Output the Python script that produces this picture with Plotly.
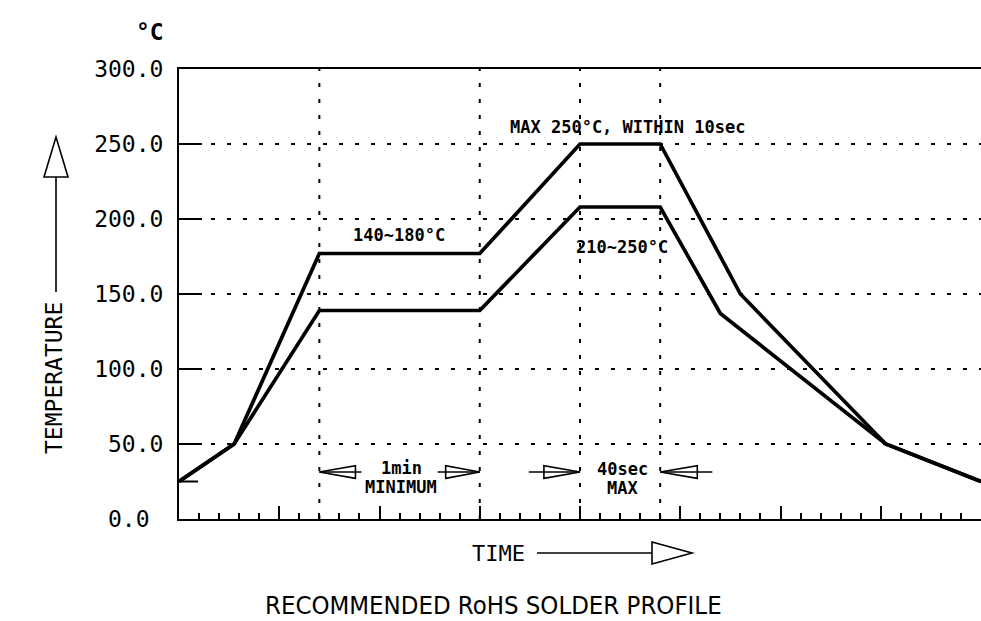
import plotly.graph_objects as go

# ---- data ----
upper_x = [0, 0.55, 1.4, 3.0, 4.0, 4.8, 5.6, 7.05, 8.0]
upper_y = [25, 50, 177, 177, 250, 250, 150, 50, 25]
lower_x = [0, 0.55, 1.4, 3.0, 4.0, 4.8, 5.4, 7.05, 8.0]
lower_y = [25, 50, 139, 139, 208, 208, 137, 50, 25]
marker_x = [1.4, 3.0, 4.0, 4.8]
y_ticks = [0, 50, 100, 150, 200, 250, 300]
y_ticktext = ["0.0\u00a0", "50.0", "100.0", "150.0", "200.0", "250.0", "300.0"]

# ---- geometry helpers (pixel -> paper) ----
L, R, T, B = 179, 981, 69, 519
def px(x):
    return (x - L) / (R - L)
def py(y):
    return (B - y) / (B - T)

MONO = "DejaVu Sans Mono"
fig = go.Figure()

line_style = dict(color="black", width=3.7)
fig.add_trace(go.Scatter(x=upper_x, y=upper_y, mode="lines", line=line_style,
                         hoverinfo="skip", showlegend=False))
fig.add_trace(go.Scatter(x=lower_x, y=lower_y, mode="lines", line=line_style,
                         hoverinfo="skip", showlegend=False))

shapes = []
dot = "4px,12px"
for xv in marker_x:
    shapes.append(dict(type="line", xref="x", yref="y", x0=xv, x1=xv, y0=0, y1=300,
                       line=dict(color="black", width=2, dash=dot), layer="below"))
# start stub at 25
shapes.append(dict(type="line", xref="x", yref="y", x0=0, x1=0.19, y0=25, y1=25,
                   line=dict(color="black", width=2)))

# span arrows (data coords)
ay = 31.3
hh = 4.2
def arrow(tip, base, tail):
    s = []
    s.append(dict(type="path", xref="x", yref="y",
                  path=f"M {base},{ay-hh} L {tip},{ay} L {base},{ay+hh} Z",
                  line=dict(color="black", width=1.6)))
    s.append(dict(type="line", xref="x", yref="y", x0=tip, x1=tail, y0=ay, y1=ay,
                  line=dict(color="black", width=1.6)))
    return s
shapes += arrow(marker_x[0], marker_x[0] + 0.36, marker_x[0] + 0.42)
shapes += arrow(marker_x[1], marker_x[1] - 0.34, marker_x[1] - 0.42)
shapes += arrow(marker_x[2], marker_x[2] - 0.36, marker_x[2] - 0.51)
shapes += arrow(marker_x[3], marker_x[3] + 0.37, marker_x[3] + 0.52)

# temperature arrow (paper coords)
shapes.append(dict(type="line", xref="paper", yref="paper", x0=px(56), x1=px(56),
                   y0=py(292), y1=py(177), line=dict(color="black", width=1.6)))
shapes.append(dict(type="path", xref="paper", yref="paper",
                   path=f"M {px(44)},{py(177)} L {px(56)},{py(137)} L {px(68)},{py(177)} Z",
                   line=dict(color="black", width=1.6)))
# time arrow
shapes.append(dict(type="line", xref="paper", yref="paper", x0=px(537), x1=px(652),
                   y0=py(553), y1=py(553), line=dict(color="black", width=1.6)))
shapes.append(dict(type="path", xref="paper", yref="paper",
                   path=f"M {px(652)},{py(542)} L {px(692)},{py(553)} L {px(652)},{py(564)} Z",
                   line=dict(color="black", width=1.6)))

ann = []
def label(text, x, y, size=17, bold=True, **kw):
    t = f"<b>{text}</b>" if bold else text
    d = dict(text=t, x=x, y=y, xref="x", yref="y", showarrow=False,
             xanchor="center", yanchor="middle",
             font=dict(family=MONO, size=size, color="black"))
    d.update(kw)
    ann.append(d)

label("MAX 250°C, WITHIN 10sec", 4.47, 261.3)
label("140~180°C", 2.19, 189.3)
label("210~250°C", 4.42, 181.3)
label("1min", 2.22, 34)
label("MINIMUM", 2.21, 21.3)
label("40sec", 4.42, 33.3)
label("MAX", 4.42, 20.7)

def plabel(text, x, y, size, family=MONO, **kw):
    d = dict(text=text, xref="paper", yref="paper", x=px(x), y=py(y),
             xanchor="center", yanchor="middle", showarrow=False,
             font=dict(family=family, size=size, color="black"))
    d.update(kw)
    ann.append(d)

plabel("<b>°C</b>", 150, 32, 23)
plabel("TEMPERATURE", 54, 378, 23, textangle=-90)
plabel("TIME", 498, 553, 22)
plabel("RECOMMENDED RoHS SOLDER PROFILE", 493, 605, 25.5, family="DejaVu Sans Condensed")

fig.update_layout(
    width=981, height=621, autosize=False,
    margin=dict(l=L, r=981 - R, t=T, b=621 - B, pad=0),
    paper_bgcolor="white", plot_bgcolor="white",
    showlegend=False,
    shapes=shapes, annotations=ann,
    xaxis=dict(range=[0, 8], showline=True, linecolor="black", linewidth=2,
               mirror=True, showgrid=False, zeroline=False,
               ticks="inside", ticklen=13, tickwidth=2, tickcolor="black",
               tick0=0, dtick=1, showticklabels=False,
               minor=dict(ticks="inside", ticklen=6, tickwidth=2, tickcolor="black",
                          dtick=0.2, tick0=0, showgrid=False)),
    yaxis=dict(range=[0, 300], showline=True, linecolor="black", linewidth=2,
               showgrid=True, gridcolor="black", gridwidth=2, griddash=dot,
               zeroline=False, ticks="inside", ticklen=23, tickwidth=2,
               tickcolor="black", tickvals=y_ticks, ticktext=y_ticktext,
               ticklabelstandoff=9,
               tickfont=dict(family=MONO, size=23, color="black")),
)

post = ("document.body.style.margin='0';document.body.style.padding='0';"
        "document.body.style.overflow='hidden';"
        "var gd=document.getElementById('{plot_id}');"
        "Plotly.relayout(gd,{width:981,height:621});")
fig.write_html("out.html", config={"responsive": False, "displayModeBar": False},
               post_script=post)
